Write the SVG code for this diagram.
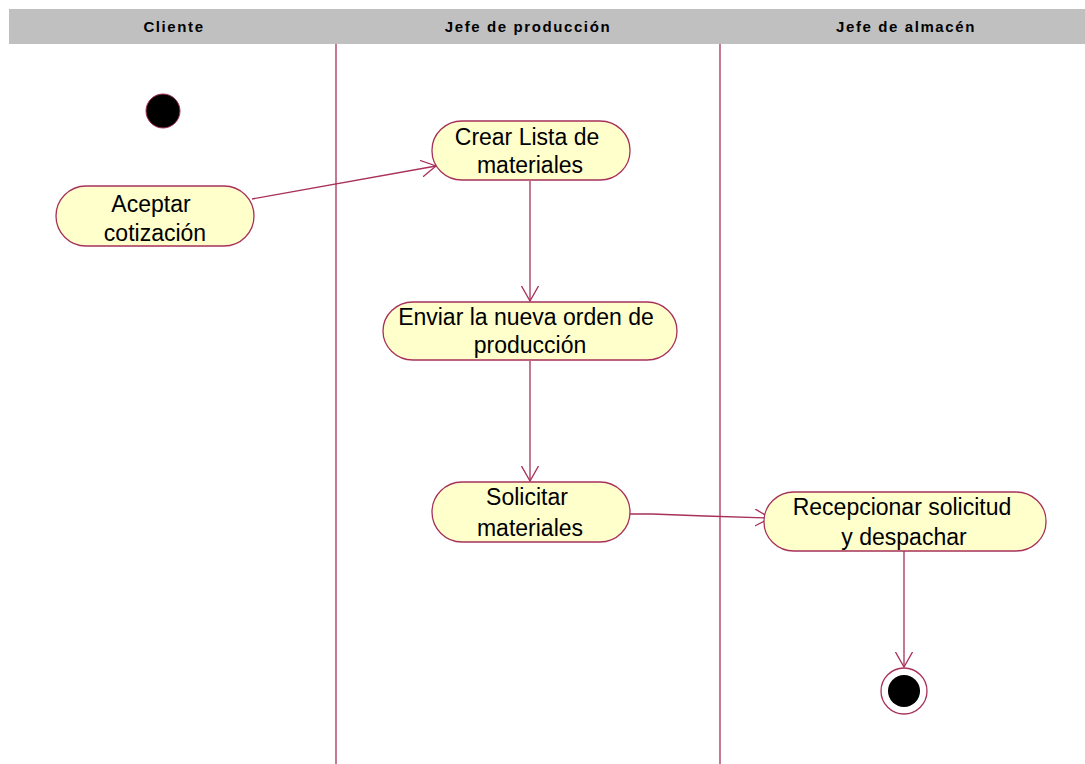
<svg xmlns="http://www.w3.org/2000/svg" width="1085" height="764" viewBox="0 0 1085 764">
  <style>
    .lane { stroke: #a8305a; stroke-width: 1.3; fill: none; }
    .hdr { font-family: "Liberation Sans", Arial, sans-serif; font-size: 15px; font-weight: bold; fill: #000; text-anchor: middle; letter-spacing: 1.6px; }
    .act { fill: #ffffcc; stroke: #a8305a; stroke-width: 1.3; }
    .lbl { font-family: "Liberation Sans", Arial, sans-serif; font-size: 23px; fill: #000; text-anchor: middle; }
    .flow { stroke: #a8305a; stroke-width: 1.3; fill: none; }
  </style>
  <defs>
    <marker id="open" viewBox="0 0 16 18" refX="15" refY="9" markerWidth="16" markerHeight="18" markerUnits="userSpaceOnUse" orient="auto">
      <path d="M0,0.5 L15,9 L0,17.5" fill="none" stroke="#a8305a" stroke-width="1.3"/>
    </marker>
  </defs>
  <rect width="1085" height="764" fill="#ffffff"/>

  <!-- swimlane header -->
  <g id="header">
    <rect x="9" y="9" width="1076" height="35" fill="#c0c0c0"/>
    <text class="hdr" x="174" y="32">Cliente</text>
    <text class="hdr" x="528" y="32">Jefe de producción</text>
    <text class="hdr" x="906" y="32">Jefe de almacén</text>
  </g>

  <!-- lane separators -->
  <g id="lanes">
    <line class="lane" x1="336" y1="44" x2="336" y2="764"/>
    <line class="lane" x1="720" y1="44" x2="720" y2="764"/>
  </g>

  <!-- connectors -->
  <g id="connectors">
    <line class="flow" x1="252" y1="199" x2="436" y2="166" marker-end="url(#open)"/>
    <line class="flow" x1="530" y1="181" x2="530" y2="301" marker-end="url(#open)"/>
    <line class="flow" x1="530" y1="361" x2="530" y2="481" marker-end="url(#open)"/>
    <polyline class="flow" points="630,514 652,514 705,516 770,518" marker-end="url(#open)"/>
    <line class="flow" x1="904" y1="551" x2="904" y2="667" marker-end="url(#open)"/>
  </g>

  <g id="start">
    <circle cx="163" cy="111" r="17" fill="#000" stroke="#a8305a" stroke-width="1"/>
  </g>

  <g id="aceptar">
    <rect class="act" x="56" y="186" width="198" height="60" rx="30" ry="30"/>
    <text class="lbl" x="151" y="212">Aceptar</text>
    <text class="lbl" x="155" y="241">cotización</text>
  </g>

  <g id="crear">
    <rect class="act" x="432" y="121" width="198" height="59" rx="30" ry="29"/>
    <text class="lbl" x="527" y="145">Crear Lista de</text>
    <text class="lbl" x="530" y="173">materiales</text>
  </g>

  <g id="enviar">
    <rect class="act" x="383" y="302" width="294" height="58" rx="30" ry="29"/>
    <text class="lbl" x="526" y="325">Enviar la nueva orden de</text>
    <text class="lbl" x="530" y="353">producción</text>
  </g>

  <g id="solicitar">
    <rect class="act" x="432" y="482" width="198" height="60" rx="30" ry="30"/>
    <text class="lbl" x="527" y="505">Solicitar</text>
    <text class="lbl" x="530" y="536">materiales</text>
  </g>

  <g id="recepcionar">
    <rect class="act" x="764" y="492" width="282" height="59" rx="30" ry="29"/>
    <text class="lbl" x="902" y="515">Recepcionar solicitud</text>
    <text class="lbl" x="904" y="545">y despachar</text>
  </g>

  <g id="end">
    <circle cx="904" cy="691" r="23" fill="#fff" stroke="#a8305a" stroke-width="1.3"/>
    <circle cx="904" cy="691" r="16" fill="#000"/>
  </g>
</svg>
